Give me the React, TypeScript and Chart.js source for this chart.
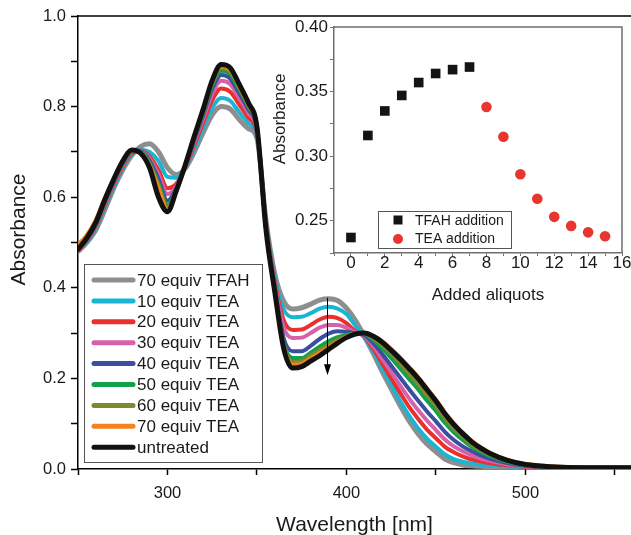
import { useEffect, useRef } from 'react';
import { Chart, registerables } from 'chart.js';

Chart.register(...registerables);

const FONT = '"Liberation Sans", Arial, Helvetica, sans-serif';

// ---------- Main spectra ----------
const WAVELENGTHS = [
  250, 255, 260, 265, 270, 275, 280, 285, 290, 295,
  300, 305, 310, 315, 320, 325, 330, 335, 340, 345,
  350, 355, 360, 365, 370, 375, 380, 385, 390, 395,
  400, 405, 410, 415, 420, 425, 430, 435, 440, 445,
  450, 455, 460, 465, 470, 475, 480,
  490, 500, 520, 540, 560,
];

const ABS_TFAH70 = [
  0.480, 0.500, 0.528, 0.572, 0.620, 0.660, 0.692, 0.712, 0.718, 0.700,
  0.665, 0.650, 0.664, 0.700, 0.743, 0.782, 0.800, 0.795, 0.772, 0.752,
  0.730, 0.550, 0.430, 0.370, 0.353, 0.356, 0.364, 0.373, 0.376, 0.372,
  0.355, 0.328, 0.293, 0.255, 0.215, 0.177, 0.140, 0.106, 0.078, 0.055,
  0.038, 0.022, 0.014, 0.009, 0.007, 0.006, 0.005,
  0.004, 0.003, 0.003, 0.003, 0.003,
];
const ABS_TEA10 = [
  0.481, 0.502, 0.532, 0.577, 0.624, 0.664, 0.694, 0.705, 0.700, 0.680,
  0.645, 0.643, 0.665, 0.707, 0.753, 0.797, 0.819, 0.813, 0.788, 0.764,
  0.735, 0.548, 0.422, 0.352, 0.335, 0.336, 0.344, 0.354, 0.358, 0.354,
  0.342, 0.316, 0.290, 0.259, 0.222, 0.186, 0.150, 0.118, 0.090, 0.067,
  0.049, 0.032, 0.022, 0.016, 0.012, 0.010, 0.008,
  0.006, 0.004, 0.003, 0.003, 0.003,
];
const ABS_TEA20 = [
  0.482, 0.504, 0.536, 0.582, 0.628, 0.668, 0.697, 0.703, 0.690, 0.660,
  0.620, 0.630, 0.666, 0.715, 0.765, 0.814, 0.840, 0.833, 0.805, 0.776,
  0.740, 0.545, 0.413, 0.328, 0.307, 0.308, 0.318, 0.330, 0.336, 0.333,
  0.322, 0.304, 0.292, 0.265, 0.233, 0.200, 0.168, 0.137, 0.111, 0.087,
  0.068, 0.049, 0.037, 0.028, 0.021, 0.017, 0.013,
  0.008, 0.005, 0.003, 0.003, 0.003,
];
const ABS_TEA30 = [
  0.483, 0.506, 0.539, 0.586, 0.631, 0.671, 0.699, 0.702, 0.685, 0.650,
  0.607, 0.624, 0.668, 0.721, 0.774, 0.828, 0.857, 0.850, 0.819, 0.787,
  0.745, 0.542, 0.405, 0.312, 0.289, 0.290, 0.300, 0.312, 0.318, 0.318,
  0.312, 0.302, 0.294, 0.271, 0.243, 0.214, 0.184, 0.156, 0.130, 0.107,
  0.086, 0.065, 0.050, 0.039, 0.030, 0.023, 0.018,
  0.010, 0.006, 0.003, 0.003, 0.003,
];
const ABS_TEA40 = [
  0.484, 0.507, 0.541, 0.589, 0.634, 0.674, 0.700, 0.701, 0.680, 0.640,
  0.592, 0.620, 0.669, 0.726, 0.782, 0.839, 0.870, 0.862, 0.830, 0.795,
  0.749, 0.539, 0.400, 0.288, 0.260, 0.260, 0.272, 0.287, 0.299, 0.304,
  0.303, 0.300, 0.296, 0.278, 0.254, 0.228, 0.202, 0.176, 0.151, 0.127,
  0.105, 0.082, 0.064, 0.050, 0.039, 0.030, 0.023,
  0.013, 0.007, 0.004, 0.003, 0.003,
];
const ABS_TEA50 = [
  0.484, 0.508, 0.543, 0.591, 0.636, 0.676, 0.701, 0.700, 0.676, 0.630,
  0.582, 0.618, 0.670, 0.730, 0.787, 0.847, 0.879, 0.872, 0.838, 0.801,
  0.751, 0.536, 0.395, 0.277, 0.245, 0.245, 0.257, 0.270, 0.282, 0.291,
  0.296, 0.299, 0.298, 0.285, 0.267, 0.245, 0.222, 0.199, 0.176, 0.151,
  0.128, 0.102, 0.081, 0.064, 0.049, 0.038, 0.029,
  0.016, 0.009, 0.004, 0.003, 0.003,
];
const ABS_TEA60 = [
  0.485, 0.509, 0.544, 0.593, 0.638, 0.678, 0.702, 0.699, 0.672, 0.625,
  0.577, 0.617, 0.671, 0.732, 0.791, 0.852, 0.885, 0.878, 0.843, 0.804,
  0.753, 0.534, 0.393, 0.272, 0.236, 0.238, 0.250, 0.262, 0.274, 0.285,
  0.293, 0.299, 0.299, 0.289, 0.274, 0.254, 0.233, 0.210, 0.188, 0.163,
  0.139, 0.112, 0.089, 0.071, 0.054, 0.042, 0.032,
  0.018, 0.009, 0.004, 0.003, 0.003,
];
const ABS_TEA70 = [
  0.495, 0.517, 0.550, 0.598, 0.641, 0.680, 0.703, 0.698, 0.670, 0.620,
  0.572, 0.616, 0.672, 0.734, 0.793, 0.855, 0.889, 0.882, 0.846, 0.807,
  0.754, 0.532, 0.391, 0.268, 0.230, 0.232, 0.244, 0.256, 0.268, 0.281,
  0.292, 0.299, 0.300, 0.294, 0.282, 0.265, 0.246, 0.225, 0.203, 0.178,
  0.153, 0.125, 0.101, 0.080, 0.062, 0.048, 0.036,
  0.020, 0.011, 0.005, 0.004, 0.004,
];
const ABS_UNTREATED = [
  0.485, 0.510, 0.545, 0.595, 0.640, 0.680, 0.704, 0.697, 0.665, 0.600,
  0.568, 0.615, 0.672, 0.735, 0.795, 0.858, 0.893, 0.886, 0.850, 0.810,
  0.755, 0.530, 0.390, 0.265, 0.223, 0.226, 0.238, 0.250, 0.264, 0.278,
  0.290, 0.298, 0.300, 0.293, 0.280, 0.262, 0.243, 0.222, 0.200, 0.175,
  0.150, 0.122, 0.098, 0.078, 0.060, 0.046, 0.035,
  0.019, 0.010, 0.004, 0.003, 0.003,
];

const SERIES_LABELS = [
  '70 equiv TFAH', '10 equiv TEA', '20 equiv TEA', '30 equiv TEA', '40 equiv TEA',
  '50 equiv TEA', '60 equiv TEA', '70 equiv TEA', 'untreated',
];
const SERIES_VALUES = [
  ABS_TFAH70, ABS_TEA10, ABS_TEA20, ABS_TEA30, ABS_TEA40,
  ABS_TEA50, ABS_TEA60, ABS_TEA70, ABS_UNTREATED,
];
const SERIES_COLORS = [
  '#8e8e8e', '#19b5d3', '#e8312f', '#d660a9', '#3b4ea0',
  '#13a04a', '#7d8a30', '#f3821f', '#111111',
];
const SERIES_WIDTHS = [5, 4, 4, 4, 4, 4, 4, 4, 5];

const X_TICK_LABELS = [300, 400, 500];
const Y_TICK_LABELS = [0, 0.2, 0.4, 0.6, 0.8, 1.0];

// arrow annotation (wavelength, from, to)
const ARROW_WAVELENGTH = 389;
const ARROW_FROM = 0.378;
const ARROW_TO = 0.207;

// ---------- Inset ----------
const ALIQUOTS_TFAH = [0, 1, 2, 3, 4, 5, 6, 7];
const INSET_ABS_TFAH = [0.237, 0.316, 0.335, 0.347, 0.357, 0.364, 0.367, 0.369];
const ALIQUOTS_TEA = [8, 9, 10, 11, 12, 13, 14, 15];
const INSET_ABS_TEA = [0.338, 0.315, 0.286, 0.267, 0.253, 0.246, 0.241, 0.238];
const INSET_X_TICKS = [0, 2, 4, 6, 8, 10, 12, 14, 16];
const INSET_Y_TICKS = [0.25, 0.3, 0.35, 0.4];

const mainDecor = {
  id: 'mainDecor',
  afterDraw(chart: any) {
    const { ctx, chartArea: ca, scales } = chart;
    const xs = scales.x;
    const ys = scales.y;
    ctx.save();
    // top frame line
    ctx.strokeStyle = '#000';
    ctx.lineWidth = 1.5;
    ctx.beginPath();
    ctx.moveTo(ca.left, ca.top);
    ctx.lineTo(ca.right, ca.top);
    ctx.stroke();

    // arrow
    const ax = Math.round(xs.getPixelForValue(ARROW_WAVELENGTH)) + 0.5;
    const ay0 = ys.getPixelForValue(ARROW_FROM);
    const ay1 = ys.getPixelForValue(ARROW_TO);
    ctx.lineWidth = 1;
    ctx.beginPath();
    ctx.moveTo(ax, ay0);
    ctx.lineTo(ax, ay1 - 8);
    ctx.stroke();
    ctx.fillStyle = '#000';
    ctx.beginPath();
    ctx.moveTo(ax - 3.5, ay1 - 11);
    ctx.lineTo(ax + 3.5, ay1 - 11);
    ctx.lineTo(ax, ay1);
    ctx.closePath();
    ctx.fill();

    // legend
    const lx = ca.left + 6;
    const ly = ca.bottom - 205;
    const lw = 178;
    const lh = 198;
    ctx.fillStyle = '#fff';
    ctx.fillRect(lx, ly, lw, lh);
    ctx.strokeStyle = '#555';
    ctx.lineWidth = 1;
    ctx.strokeRect(lx + 0.5, ly + 0.5, lw, lh);
    ctx.font = `17px ${FONT}`;
    ctx.textBaseline = 'middle';
    ctx.textAlign = 'left';
    chart.data.datasets.forEach((ds: any, i: number) => {
      const cy = ly + 16 + i * 20.9;
      ctx.strokeStyle = ds.borderColor;
      ctx.lineWidth = 5;
      ctx.lineCap = 'round';
      ctx.beginPath();
      ctx.moveTo(lx + 10, cy);
      ctx.lineTo(lx + 49, cy);
      ctx.stroke();
      ctx.fillStyle = '#1a1a1a';
      ctx.fillText(ds.label, lx + 53, cy + 1);
    });

    // axis titles
    ctx.fillStyle = '#1a1a1a';
    ctx.font = `21px ${FONT}`;
    ctx.textAlign = 'center';
    ctx.textBaseline = 'alphabetic';
    ctx.fillText('Wavelength [nm]', (ca.left + ca.right) / 2, ca.bottom + 62);
    ctx.save();
    ctx.translate(ca.left - 53, (ca.top + ca.bottom) / 2 - 13);
    ctx.rotate(-Math.PI / 2);
    ctx.fillText('Absorbance', 0, 0);
    ctx.restore();
    ctx.restore();
  },
};

const insetDecor = {
  id: 'insetDecor',
  afterDraw(chart: any) {
    const { ctx, chartArea: ca } = chart;
    ctx.save();
    ctx.strokeStyle = '#6f6f6f';
    ctx.lineWidth = 1.5;
    ctx.beginPath();
    ctx.moveTo(ca.left, ca.top);
    ctx.lineTo(ca.right, ca.top);
    ctx.lineTo(ca.right, ca.bottom);
    ctx.stroke();

    // legend
    const lx = ca.left + 44;
    const ly = ca.bottom - 42;
    ctx.fillStyle = '#fff';
    ctx.fillRect(lx, ly, 133, 37);
    ctx.strokeStyle = '#555';
    ctx.lineWidth = 1;
    ctx.strokeRect(lx + 0.5, ly + 0.5, 133, 37);
    const ds = chart.data.datasets;
    ctx.font = `14px ${FONT}`;
    ctx.textBaseline = 'middle';
    ctx.textAlign = 'left';
    // TFAH
    ctx.fillStyle = ds[0].backgroundColor;
    ctx.fillRect(lx + 15.5, ly + 4.5, 9, 9);
    ctx.fillStyle = '#1a1a1a';
    ctx.fillText(ds[0].label, lx + 37, ly + 10);
    // TEA
    ctx.fillStyle = ds[1].backgroundColor;
    ctx.beginPath();
    ctx.arc(lx + 20, ly + 28, 5, 0, Math.PI * 2);
    ctx.fill();
    ctx.fillStyle = '#1a1a1a';
    ctx.fillText(ds[1].label, lx + 37, ly + 28.5);

    // axis titles
    ctx.font = `17px ${FONT}`;
    ctx.textAlign = 'center';
    ctx.textBaseline = 'alphabetic';
    ctx.fillText('Added aliquots', ca.left + 154, ca.bottom + 47);
    ctx.save();
    ctx.translate(ca.left - 49, ca.top + 92);
    ctx.rotate(-Math.PI / 2);
    ctx.fillText('Absorbance', 0, 0);
    ctx.restore();
    ctx.restore();
  },
};

export default function App() {
  const mainRef = useRef<HTMLCanvasElement | null>(null);
  const insetRef = useRef<HTMLCanvasElement | null>(null);

  useEffect(() => {
    const mainCanvas = mainRef.current;
    const insetCanvas = insetRef.current;
    if (!mainCanvas || !insetCanvas) return;

    const n = SERIES_LABELS.length;
    const datasets = SERIES_LABELS.map((label, i) => ({
      label,
      data: WAVELENGTHS.map((w, j) => ({ x: w, y: SERIES_VALUES[i][j] })),
      borderColor: SERIES_COLORS[i],
      backgroundColor: SERIES_COLORS[i],
      borderWidth: SERIES_WIDTHS[i],
      pointRadius: 0,
      fill: false,
      order: n - 1 - i, // later series (untreated) drawn on top
      cubicInterpolationMode: 'monotone' as const,
      borderJoinStyle: 'round' as const,
      borderCapStyle: 'round' as const,
    }));

    const main = new Chart(mainCanvas, {
      type: 'line',
      data: { datasets },
      options: {
        responsive: false,
        animation: false,
        devicePixelRatio: 1,
        layout: { padding: { top: 16, left: 0, right: 0, bottom: 0 } },
        plugins: { legend: { display: false }, tooltip: { enabled: false } },
        scales: {
          x: {
            type: 'linear',
            min: 250,
            max: 559,
            ticks: {
              stepSize: 50,
              includeBounds: false,
              autoSkip: false,
              maxRotation: 0,
              padding: 9,
              color: '#1a1a1a',
              font: { family: FONT, size: 16.5 },
              callback: (v: any) => (X_TICK_LABELS.includes(Number(v)) ? String(v) : ''),
            },
            grid: { drawOnChartArea: false, tickLength: 6, tickColor: '#000', tickWidth: 1.5 },
            border: { color: '#000', width: 1.5 },
            afterFit: (s: any) => { s.height = 66; },
          },
          y: {
            type: 'linear',
            min: 0,
            max: 1,
            ticks: {
              stepSize: 0.1,
              includeBounds: false,
              autoSkip: false,
              padding: 5,
              color: '#1a1a1a',
              font: { family: FONT, size: 16.5 },
              callback: (v: any) => {
                const nv = Number(v);
                return Y_TICK_LABELS.some((t) => Math.abs(t - nv) < 1e-6) ? nv.toFixed(1) : '';
              },
            },
            grid: { drawOnChartArea: false, tickLength: 7, tickColor: '#000', tickWidth: 1.5 },
            border: { color: '#000', width: 1.5 },
            afterFit: (s: any) => { s.width = 78; },
          },
        },
      },
      plugins: [mainDecor],
    } as any);

    const inset = new Chart(insetCanvas, {
      type: 'scatter',
      data: {
        datasets: [
          {
            label: 'TFAH addition',
            data: ALIQUOTS_TFAH.map((x, i) => ({ x, y: INSET_ABS_TFAH[i] })),
            pointStyle: 'rect',
            pointRadius: 6.8,
            backgroundColor: '#141414',
            borderColor: '#141414',
            borderWidth: 0,
          },
          {
            label: 'TEA addition',
            data: ALIQUOTS_TEA.map((x, i) => ({ x, y: INSET_ABS_TEA[i] })),
            pointStyle: 'circle',
            pointRadius: 5.3,
            backgroundColor: '#e8352f',
            borderColor: '#e8352f',
            borderWidth: 0,
          },
        ],
      },
      options: {
        responsive: false,
        animation: false,
        devicePixelRatio: 1,
        layout: { padding: { top: 27, left: 0, right: 18, bottom: 0 } },
        plugins: { legend: { display: false }, tooltip: { enabled: false } },
        scales: {
          x: {
            type: 'linear',
            min: -1,
            max: 16,
            ticks: {
              stepSize: 1,
              includeBounds: false,
              autoSkip: false,
              maxRotation: 0,
              padding: -3,
              color: '#1a1a1a',
              font: { family: FONT, size: 17 },
              callback: (v: any) => (INSET_X_TICKS.includes(Number(v)) ? String(v) : ''),
            },
            grid: { drawOnChartArea: false, tickLength: 3, tickColor: '#6f6f6f', tickWidth: 1 },
            border: { color: '#6f6f6f', width: 1.5 },
            afterFit: (s: any) => { s.height = 57; },
          },
          y: {
            type: 'linear',
            min: 0.225,
            max: 0.4,
            ticks: {
              stepSize: 0.025,
              includeBounds: false,
              autoSkip: false,
              padding: 2,
              color: '#1a1a1a',
              font: { family: FONT, size: 17 },
              callback: (v: any) => {
                const nv = Number(v);
                return INSET_Y_TICKS.some((t) => Math.abs(t - nv) < 1e-6) ? nv.toFixed(2) : '';
              },
            },
            grid: { drawOnChartArea: false, tickLength: 4, tickColor: '#6f6f6f', tickWidth: 1 },
            border: { color: '#6f6f6f', width: 1.5 },
            afterFit: (s: any) => { s.width = 74; },
          },
        },
      },
      plugins: [insetDecor],
    } as any);

    return () => {
      main.destroy();
      inset.destroy();
    };
  }, []);

  return (
    <div
      style={{
        position: 'absolute',
        left: 0,
        top: 0,
        width: 631,
        height: 535,
        overflow: 'hidden',
        background: '#fff',
      }}
    >
      <canvas
        ref={mainRef}
        width={631}
        height={535}
        style={{ position: 'absolute', left: 0, top: 0, width: 631, height: 535 }}
      />
      <canvas
        ref={insetRef}
        width={380}
        height={310}
        style={{ position: 'absolute', left: 260, top: 0, width: 380, height: 310 }}
      />
    </div>
  );
}
